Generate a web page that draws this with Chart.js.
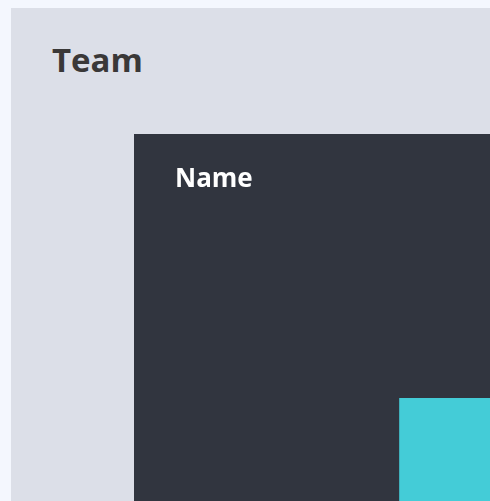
<!DOCTYPE html>
<html>
<head>
<meta charset="utf-8">
<script src="https://cdn.jsdelivr.net/npm/chart.js@4"></script>
<style>
  html, body { margin: 0; padding: 0; overflow: hidden; background: #f4f7fe; width: 490px; height: 501px; }
  .painel { position: absolute; left: 11px; top: 8px; width: 700px; height: 700px; background: #dcdfe8; }
  .painel h1 { position: absolute; left: 41px; top: 29px; margin: 0; font: 700 33px "Open Sans", sans-serif; color: #3a3838; }
  .card { position: absolute; left: 123px; top: 126px; width: 464px; height: 500px; background: #31353f; }
</style>
</head>
<body>
<div class="painel">
  <h1>Team</h1>
  <div class="card"><canvas id="chart-team" width="464" height="500"></canvas></div>
</div>
<script>
// Dados do gráfico (só uma barra aparece no recorte)
const categorias = ['', 'Team'];
const valores = [0, 59];
const titulo = 'Name';

const ctx = document.getElementById('chart-team').getContext('2d');

new Chart(ctx, {
  type: 'bar',
  data: {
    labels: categorias,
    datasets: [{
      data: valores,
      backgroundColor: '#44ccd7',
      categoryPercentage: 1,
      barPercentage: 0.88
    }]
  },
  options: {
    responsive: false,
    animation: false,
    layout: { padding: { left: 41, top: 0, right: 0, bottom: 0 } },
    plugins: {
      legend: { display: false },
      tooltip: { enabled: false },
      title: {
        display: true,
        text: titulo,
        align: 'start',
        color: '#ffffff',
        font: { family: 'Open Sans', size: 26, weight: 'bold' },
        padding: { top: 30, bottom: 38.8 }
      }
    },
    scales: {
      x: { display: false },
      y: { display: false, min: 0, max: 100 }
    }
  }
});
</script>
</body>
</html>
